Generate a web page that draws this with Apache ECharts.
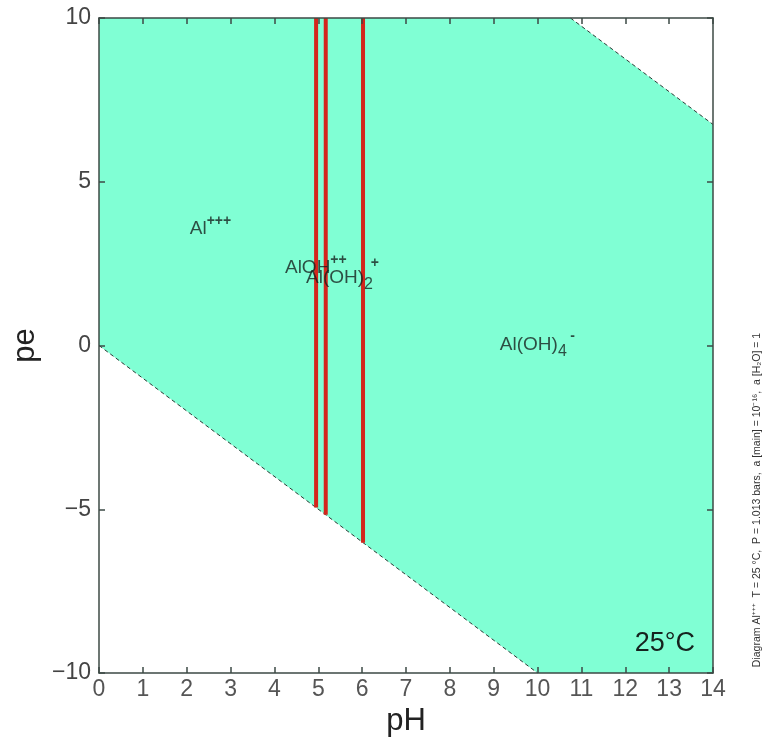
<!DOCTYPE html>
<html>
<head>
<meta charset="utf-8">
<script src="https://cdn.jsdelivr.net/npm/echarts@6/dist/echarts.min.js"></script>
<style>
  html, body { margin: 0; padding: 0; background: #fff; }
  #chart { width: 780px; height: 745px; }
</style>
</head>
<body>
<div id="chart"></div>
<script>
// pH / pe axis ranges
const phRange = [0, 14];
const peRange = [-10, 10];

// water stability limits (pe vs pH)
const upperWaterLine = [[10.75, 10], [14, 6.75]];
const lowerWaterLine = [[0, 0], [10, -10]];

// shaded stability field (between the two water lines)
const fieldPolygon = [[0, 10], [10.75, 10], [14, 6.75], [14, -10], [10, -10], [0, 0]];

// predominance boundaries (vertical), pH and lower end pe
const boundaryPH = [4.95, 5.17, 6.02];
const boundaryBottomPE = [-4.95, -5.17, -6.02];

// species labels: [pH, pe, text]
const speciesLabels = [
  [2.07, 3.56, '{m|Al}{sup|+++}'],
  [4.24, 2.37, '{m|AlOH}{sup|++}'],
  [4.72, 2.06, '{m|Al(OH)}{sub|2}'],
  [9.14, 0.02, '{m|Al(OH)}{sub|4}']
];
// charges stacked over subscripts
const chargeLabels = [
  [6.29, 2.5, '+'],
  [10.8, 0.3, '-']
];

const font = 'Liberation Sans, Arial, sans-serif';

const chart = echarts.init(document.getElementById('chart'));

let series = [];

// stability field
series.push({
  type: 'custom',
  z: 1,
  renderItem: function (params, api) {
    let pts = fieldPolygon.map(p => api.coord(p));
    return {
      type: 'polygon',
      shape: { points: pts },
      style: { fill: '#80ffd4' }
    };
  },
  data: [[0, 0]],
  silent: true
});

// water lines
[upperWaterLine, lowerWaterLine].forEach(d => {
  series.push({
    type: 'line',
    z: 3,
    data: d,
    symbol: 'none',
    silent: true,
    lineStyle: { color: '#2b3b35', width: 1, type: [4, 3] }
  });
});

// red boundaries
boundaryPH.forEach((ph, i) => {
  series.push({
    type: 'line',
    z: 4,
    data: [[ph, 10], [ph, boundaryBottomPE[i]]],
    symbol: 'none',
    silent: true,
    lineStyle: { color: '#d3261c', width: 4 }
  });
});

// species labels
series.push({
  type: 'scatter',
  z: 6,
  symbolSize: 0,
  silent: true,
  data: speciesLabels.map(d => ({ value: [d[0], d[1]], txt: d[2] })),
  label: {
    show: true,
    position: 'right',
    distance: 0,
    formatter: p => p.data.txt,
    rich: {
      m: { fontSize: 19, color: '#16221e', fontFamily: font, lineHeight: 30, verticalAlign: 'middle' },
      sup: { fontSize: 14, fontWeight: 'bold', color: '#16221e', fontFamily: font, lineHeight: 12, verticalAlign: 'top' },
      sub: { fontSize: 16, color: '#16221e', fontFamily: font, lineHeight: 14, verticalAlign: 'bottom' }
    }
  }
});

series.push({
  type: 'scatter',
  z: 6,
  symbolSize: 0,
  silent: true,
  data: chargeLabels.map(d => ({ value: [d[0], d[1]], txt: d[2] })),
  label: {
    show: true,
    position: 'inside',
    formatter: p => p.data.txt,
    fontSize: 14,
    fontWeight: 'bold',
    color: '#16221e',
    fontFamily: font
  }
});

const axisLineStyle = { color: '#3d4a45', width: 1.5 };

let option = {
  backgroundColor: '#fff',
  animation: false,
  grid: { left: 99, right: 67, top: 18, bottom: 72 },
  xAxis: [
    {
      type: 'value',
      z: 10,
      min: phRange[0],
      max: phRange[1],
      interval: 1,
      name: 'pH',
      nameLocation: 'middle',
      nameGap: 32,
      nameTextStyle: { fontSize: 31, color: '#222', fontFamily: font },
      axisLine: { onZero: false, lineStyle: axisLineStyle },
      axisTick: { inside: true, length: 6, lineStyle: axisLineStyle },
      axisLabel: { fontSize: 23, color: '#555', fontFamily: font, margin: 5 },
      splitLine: { show: false }
    },
    {
      type: 'value',
      z: 10,
      position: 'top',
      min: phRange[0],
      max: phRange[1],
      interval: 1,
      axisLine: { onZero: false, lineStyle: axisLineStyle },
      axisTick: { inside: true, length: 6, lineStyle: axisLineStyle },
      axisLabel: { show: false },
      splitLine: { show: false }
    }
  ],
  yAxis: [
    {
      type: 'value',
      z: 10,
      min: peRange[0],
      max: peRange[1],
      interval: 5,
      name: 'pe',
      nameLocation: 'middle',
      nameGap: 55,
      nameTextStyle: { fontSize: 31, color: '#222', fontFamily: font },
      axisLine: { onZero: false, lineStyle: axisLineStyle },
      axisTick: { inside: true, length: 6, lineStyle: axisLineStyle },
      axisLabel: {
        fontSize: 23, color: '#444', fontFamily: font, margin: 8,
        formatter: v => String(v).replace('-', '\u2212')
      },
      splitLine: { show: false }
    },
    {
      type: 'value',
      z: 10,
      position: 'right',
      min: peRange[0],
      max: peRange[1],
      interval: 5,
      axisLine: { onZero: false, lineStyle: axisLineStyle },
      axisTick: { inside: true, length: 6, lineStyle: axisLineStyle },
      axisLabel: { show: false },
      splitLine: { show: false }
    }
  ],
  graphic: [
    {
      type: 'text',
      right: 85,
      top: 630,
      z: 10,
      style: { text: '25°C', fontSize: 27, fill: '#16221e', fontFamily: font }
    },
    {
      type: 'text',
      x: 757,
      y: 500,
      rotation: Math.PI / 2,
      z: 10,
      style: {
        text: 'Diagram Al\u207A\u207A\u207A  T = 25 \u00B0C,  P = 1.013 bars,  a [main] = 10\u207B\u00B9\u2076,  a [H\u2082O] = 1',
        fontSize: 10.5,
        fill: '#333',
        fontFamily: font,
        align: 'center',
        verticalAlign: 'middle'
      }
    }
  ],
  series: series
};

chart.setOption(option);
</script>
</body>
</html>
